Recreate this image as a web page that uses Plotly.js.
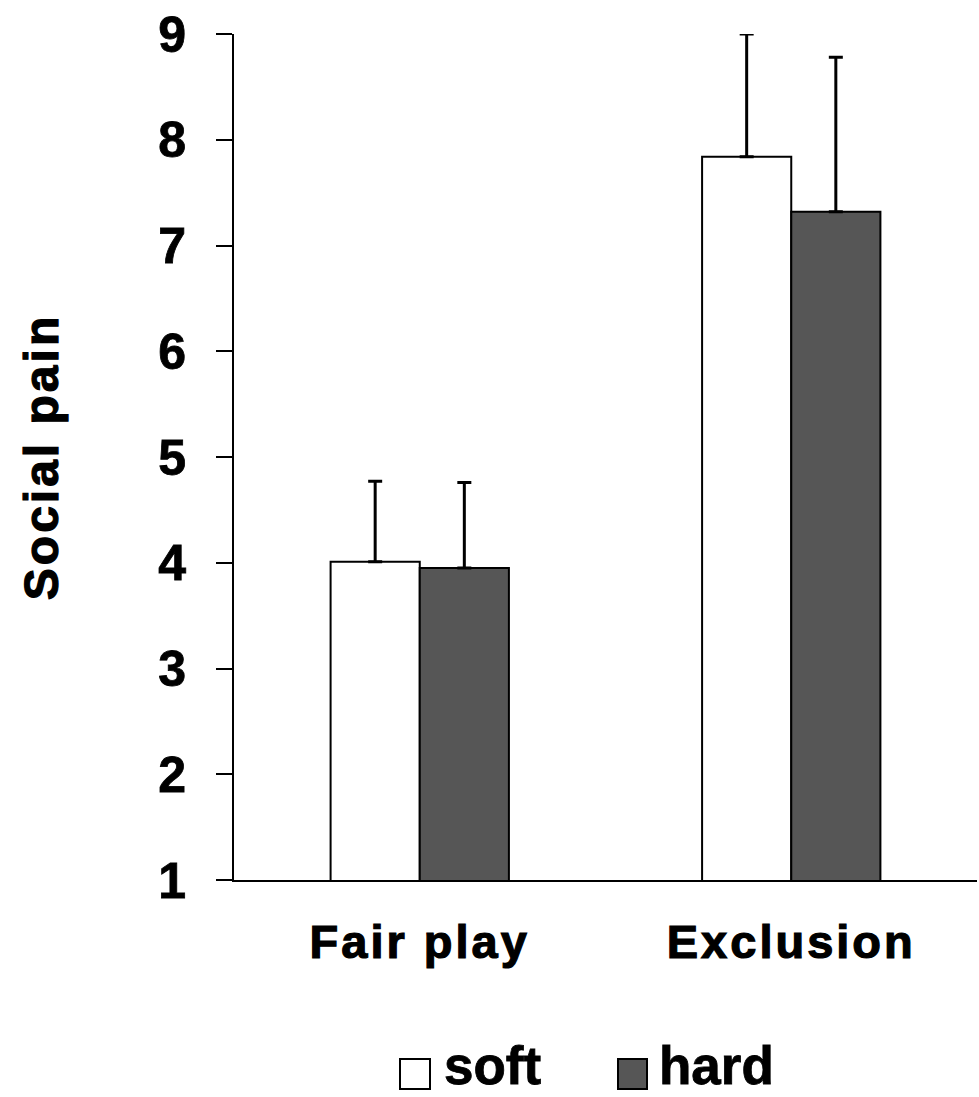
<!DOCTYPE html>
<html>
<head>
<meta charset="utf-8">
<script src="https://cdn.plot.ly/plotly-3.0.1.min.js"></script>
<style>
html,body{margin:0;padding:0;background:#fff;}
#chart .xtick text{letter-spacing:3px;stroke:#000;stroke-width:1.2px;}
#chart .ytick text{stroke:#000;stroke-width:0.8px;}
#chart .ytitle{letter-spacing:3px;stroke:#000;stroke-width:1.2px;}
#chart .annotation-text{stroke:#000;stroke-width:0.8px;}
</style>
</head>
<body>
<div id="chart" style="width:979px;height:1097px;"></div>
<script>
const categories = ["Fair play", "Exclusion"];
const seriesNames = ["soft", "hard"];
const softValues = [4.01, 7.84];
const softErrors = [0.76, 1.16];
const hardValues = [3.95, 7.32];
const hardErrors = [0.81, 1.46];
const yTicks = [1, 2, 3, 4, 5, 6, 7, 8, 9];

const FONT = "Liberation Sans, Arial, sans-serif";
const W = 979, H = 1097, L = 234, R = 2, T = 34, B = 217;
const pw = W - L - R, ph = H - T - B;
const px = x => (x - L) / pw;
const py = y => (H - B - y) / ph;

function barTrace(name, vals, errs, fill) {
  return {
    type: "bar", name: name, x: categories, y: vals,
    marker: {color: fill, line: {color: "#000", width: 2}},
    error_y: {type: "data", symmetric: false, array: errs, arrayminus: errs.map(() => 0),
              color: "#000", thickness: 3, width: 7},
    showlegend: false, hoverinfo: "skip"
  };
}

const data = [
  barTrace(seriesNames[0], softValues, softErrors, "#ffffff"),
  barTrace(seriesNames[1], hardValues, hardErrors, "#565656")
];

const legendFont = {family: FONT, size: 53, color: "#000", weight: "bold"};
const layout = {
  width: W, height: H,
  margin: {l: L, r: R, t: T, b: B, pad: 0},
  paper_bgcolor: "#fff", plot_bgcolor: "#fff",
  barmode: "group", bargap: 0.52, bargroupgap: 0,
  font: {family: FONT, color: "#000"},
  xaxis: {
    type: "category", range: [-0.5, 1.5], showline: true, linecolor: "#000", linewidth: 2,
    ticks: "", showgrid: false, zeroline: false,
    tickfont: {family: FONT, size: 47, color: "#000", weight: "bold"},
    ticklabelstandoff: 20
  },
  yaxis: {
    range: [1, 9], tickvals: yTicks, ticktext: yTicks.map(String),
    showline: true, linecolor: "#000", linewidth: 2,
    ticks: "outside", ticklen: 16, tickwidth: 2, tickcolor: "#000",
    showgrid: false, zeroline: false,
    tickfont: {family: FONT, size: 50, color: "#000", weight: "bold"},
    ticklabelstandoff: 20,
    title: {text: "Social pain", font: {family: FONT, size: 48, color: "#000", weight: "bold"}, standoff: 84}
  },
  shapes: [
    {type: "rect", xref: "paper", yref: "paper", x0: px(400), x1: px(430), y0: py(1089), y1: py(1059),
     fillcolor: "#fff", line: {color: "#000", width: 2}},
    {type: "rect", xref: "paper", yref: "paper", x0: px(618), x1: px(647), y0: py(1089), y1: py(1059),
     fillcolor: "#565656", line: {color: "#000", width: 2}}
  ],
  annotations: [
    {xref: "paper", yref: "paper", x: px(443), y: py(1065), xanchor: "left", yanchor: "middle",
     text: seriesNames[0], showarrow: false, font: legendFont, borderpad: 0},
    {xref: "paper", yref: "paper", x: px(658), y: py(1065), xanchor: "left", yanchor: "middle",
     text: seriesNames[1], showarrow: false, font: legendFont, borderpad: 0}
  ]
};

Plotly.newPlot("chart", data, layout, {displayModeBar: false, staticPlot: true});
</script>
</body>
</html>
